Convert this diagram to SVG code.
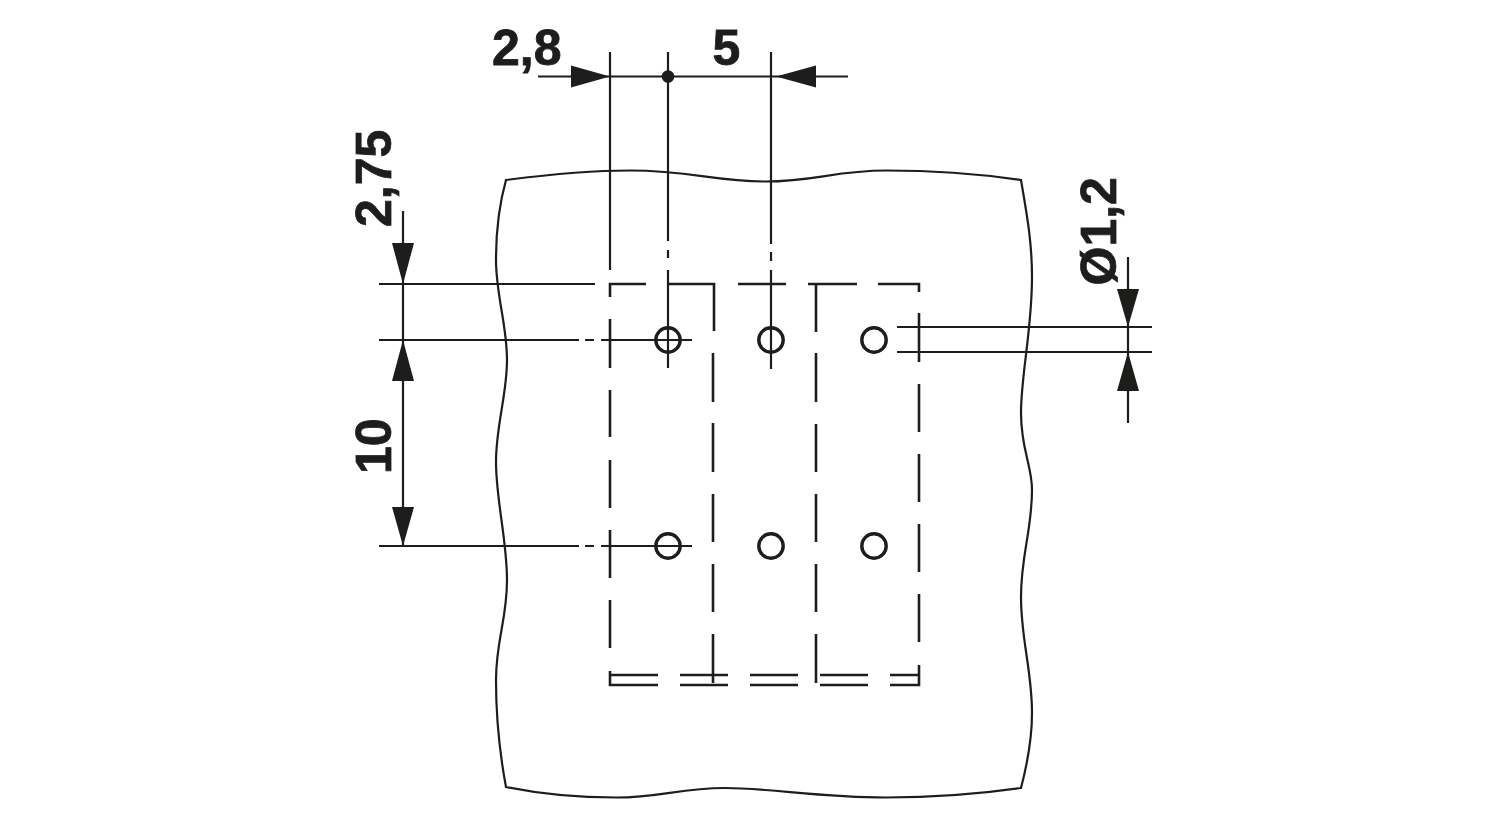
<svg xmlns="http://www.w3.org/2000/svg" width="1500" height="820" viewBox="0 0 1500 820">
<style>
.o{fill:none;stroke:#1d1d1b;stroke-width:2.2;stroke-linejoin:miter}
.l{fill:none;stroke:#1d1d1b;stroke-width:2.2}
.d{fill:none;stroke:#1d1d1b;stroke-width:2.6}
.h{fill:none;stroke:#1d1d1b;stroke-width:3.4}
.a{fill:#1d1d1b;stroke:none}
.t{font-family:"Liberation Sans",Arial,sans-serif;font-weight:700;font-size:50px;fill:#1d1d1b;stroke:#1d1d1b;stroke-width:.8}
</style>
<rect width="1500" height="820" fill="#ffffff"/>
<g id="outline">
<path class="o" d="M506 180C499 205 496 235 496 260C496 295 507 325 507 360C507 395 496 425 496 462C496 500 507 540 507 580C507 620 496 640 496 680C496 715 500 755 506 787C540 794 580 797.500 616 797.500C660 797.500 680 788 725 788C770 788 820 797.500 886 797.500C935 797.500 980 794 1021 788C1027 765 1032 740 1032 713C1032 670 1021 640 1021 597C1021 555 1032 530 1032 490C1032 465 1021 450 1021 413C1021 375 1032 330 1032 277C1032 240 1026 210 1021 180C980 174 930 170.500 886 170.500C835 170.500 815 181.500 765 181.500C715 181.500 690 170.500 630 170.500C590 170.500 545 175 506 180Z"/>
</g>
<g id="housing">
<path class="d" d="M610 297V284H646M668 284H714V331M713 353V402M713 423V472M713 494V542M713 564V612M713 634V683M738 284H786M808 284H857M816 284V332M816 353V402M816 424V472M816 494V542M816 564V612M816 634V683M878 284H919V292M919 313V362M919 384V432M919 454V502M919 524V572M919 594V642M919 665V685H890M868 685H820M798 685H750M728 685H680M658 685H610V671M610 319V368M610 390V437M610 460V508M610 530V578M610 600V648M610 675H658M680 675H728M750 675H798M820 675H868M890 675H919"/>
</g>
<g id="holes">
<circle class="h" cx="668" cy="340" r="12.2"/>
<circle class="h" cx="771" cy="340" r="12.2"/>
<circle class="h" cx="874" cy="340" r="12.2"/>
<circle class="h" cx="668" cy="546" r="12.2"/>
<circle class="h" cx="771" cy="546" r="12.2"/>
<circle class="h" cx="874" cy="546" r="12.2"/>
</g>
<g id="connectors">
<path class="l" d="M538 76.500H848M610 52V270M668 52V241M668 250V258M668 270V368M771 52V244M771 252V261M771 270V369"/>
<path class="l" d="M403 211V546M379 284H595M379 340H579M585 340H594M601 340H692M379 546H579M585 546H594M601 546H692"/>
<path class="l" d="M1128 257V423M897 327H1152M897 352H1152"/>
<path class="a" d="M571 65.500L610 76.500L571 87.500ZM776 76.500L816 65.500V87.500Z"/>
<circle class="a" cx="668" cy="76.500" r="6.300"/>
<path class="a" d="M392 243H414L403 284ZM403 340L414 381H392ZM392 507H414L403 546Z"/>
<path class="a" d="M1117 289H1139L1128 327ZM1128 352L1139 391H1117Z"/>
</g>
<g id="labels">
<text class="t" x="492" y="64.500">2,8</text>
<text class="t" x="712.500" y="64.500">5</text>
<text class="t" transform="translate(391 227) rotate(-90)">2,75</text>
<text class="t" transform="translate(391 474) rotate(-90)">10</text>
<text class="t" transform="translate(1116 285.500) rotate(-90)">Ø1,2</text>
</g>
</svg>
